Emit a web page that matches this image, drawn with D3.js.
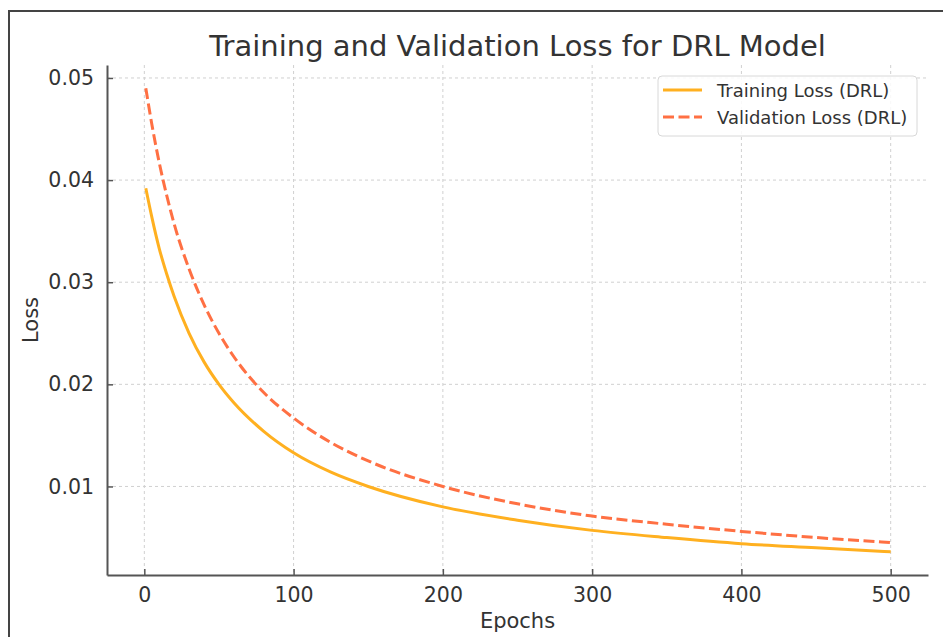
<!DOCTYPE html>
<html>
<head>
<meta charset="utf-8">
<script src="https://cdn.jsdelivr.net/npm/d3@7"></script>
<style>
  body { margin: 0; background: #fff; }
  svg { display: block; font-family: "DejaVu Sans", sans-serif; }
</style>
</head>
<body>
<div id="chart"></div>
<script>
// Values
const epochs = [1, 5, 10, 15, 20, 30, 40, 50, 60, 80, 100, 125, 150, 200, 250, 300, 350, 400, 450, 500];
const trainLoss = [0.0392, 0.0364, 0.0333, 0.0308, 0.0286, 0.0250, 0.0222, 0.0200, 0.0182, 0.0154,
                   0.0133, 0.0114, 0.0100, 0.0080, 0.0067, 0.0057, 0.0050, 0.0044, 0.0040, 0.0036];
const valLoss = [0.0490, 0.0455, 0.0417, 0.0385, 0.0357, 0.0313, 0.0278, 0.0250, 0.0227, 0.0192,
                 0.0167, 0.0143, 0.0125, 0.0100, 0.0083, 0.0071, 0.0063, 0.0056, 0.0050, 0.0045];
const xTicks = [0, 100, 200, 300, 400, 500];
const yTicks = [0.01, 0.02, 0.03, 0.04, 0.05];
const series = [
    { label: "Training Loss (DRL)", values: trainLoss, color: "#ffb020", dash: null },
    { label: "Validation Loss (DRL)", values: valLoss, color: "#ff7043", dash: "11,4.5" }
];

const W = 943, H = 637;
const margin = { top: 65, right: 15, bottom: 62, left: 107 };
const width = W - margin.left - margin.right;
const height = H - margin.top - margin.bottom;

const svg = d3.select("#chart").append("svg")
    .attr("width", W)
    .attr("height", H);

// frame of the screenshot (only left and top edges show)
svg.append("path")
    .attr("d", `M9,${H} L9,11 L${W},11`)
    .attr("fill", "none")
    .attr("stroke", "#444")
    .attr("stroke-width", 2);

const g = svg.append("g")
    .attr("transform", `translate(${margin.left},${margin.top})`);

const x = d3.scaleLinear().domain([-25, 525]).range([0, width]);
const y = d3.scaleLinear().domain([0.00133, 0.05127]).range([height, 0]);

// grid
g.append("g")
    .selectAll("line")
    .data(xTicks)
    .join("line")
    .attr("x1", d => x(d)).attr("x2", d => x(d))
    .attr("y1", 0).attr("y2", height)
    .attr("stroke", "#d0d0d0")
    .attr("stroke-width", 1)
    .attr("stroke-dasharray", "3,3");

g.append("g")
    .selectAll("line")
    .data(yTicks)
    .join("line")
    .attr("x1", 0).attr("x2", width)
    .attr("y1", d => y(d)).attr("y2", d => y(d))
    .attr("stroke", "#d0d0d0")
    .attr("stroke-width", 1)
    .attr("stroke-dasharray", "3,3");

// axes
const xAxis = g.append("g")
    .attr("transform", `translate(0,${height})`)
    .call(d3.axisBottom(x).tickValues(xTicks).tickSize(-6).tickPadding(12).tickSizeOuter(0));

const yAxis = g.append("g")
    .call(d3.axisLeft(y).tickValues(yTicks).tickSize(-6).tickPadding(13).tickSizeOuter(0)
        .tickFormat(d3.format(".2f")));

[xAxis, yAxis].forEach(a => {
    a.select(".domain").attr("stroke", "#555").attr("stroke-width", 2);
    a.selectAll(".tick line").attr("stroke", "#555").attr("stroke-width", 1.5);
    a.selectAll(".tick text")
        .attr("fill", "#333")
        .style("font-size", "20.5px")
        .style("font-family", "DejaVu Sans, sans-serif");
});

// lines
const line = d3.line()
    .x((d, i) => x(epochs[i]))
    .y(d => y(d))
    .curve(d3.curveMonotoneX);

series.forEach(s => {
    g.append("path")
        .datum(s.values)
        .attr("fill", "none")
        .attr("stroke", s.color)
        .attr("stroke-width", 3)
        .attr("stroke-dasharray", s.dash)
        .attr("d", line);
});

// title and axis labels
svg.append("text")
    .attr("x", margin.left + width / 2)
    .attr("y", 56)
    .attr("text-anchor", "middle")
    .attr("fill", "#333")
    .style("font-size", "29px")
    .text("Training and Validation Loss for DRL Model");

svg.append("text")
    .attr("x", margin.left + width / 2)
    .attr("y", 628)
    .attr("text-anchor", "middle")
    .attr("fill", "#333")
    .style("font-size", "21px")
    .text("Epochs");

svg.append("text")
    .attr("transform", `translate(38,${margin.top + height / 2}) rotate(-90)`)
    .attr("text-anchor", "middle")
    .attr("fill", "#333")
    .style("font-size", "21px")
    .text("Loss");

// legend
const legend = svg.append("g").attr("transform", "translate(658,76)");
legend.append("rect")
    .attr("width", 259)
    .attr("height", 60)
    .attr("rx", 4)
    .attr("fill", "white")
    .attr("fill-opacity", 0.85)
    .attr("stroke", "#d8d8d8")
    .attr("stroke-width", 1);

series.forEach((s, i) => {
    const row = legend.append("g").attr("transform", `translate(0,${14 + i * 27})`);
    row.append("line")
        .attr("x1", 5).attr("x2", 44)
        .attr("stroke", s.color)
        .attr("stroke-width", 3)
        .attr("stroke-dasharray", s.dash);
    row.append("text")
        .attr("x", 59)
        .attr("y", 6.5)
        .attr("fill", "#333")
        .style("font-size", "18px")
        .text(s.label);
});
</script>
</body>
</html>
